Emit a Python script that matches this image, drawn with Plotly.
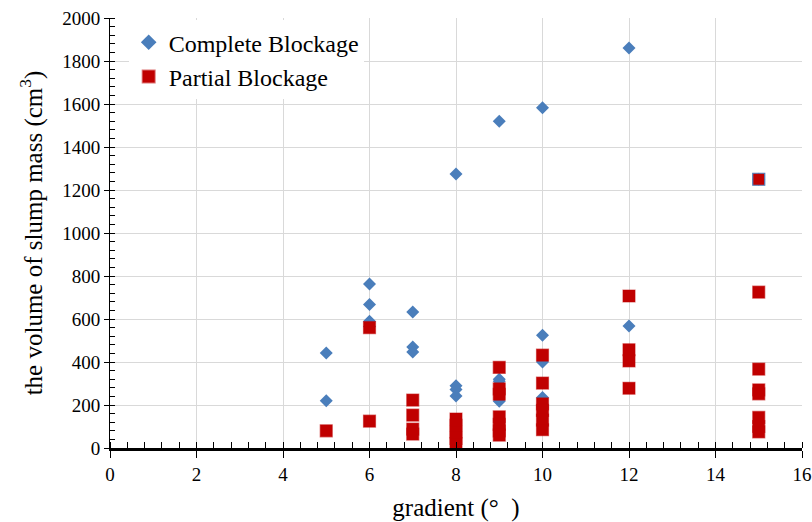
import plotly.graph_objects as go

# Slump volume versus gradient, per blockage type
complete_gradient = [5, 5, 6, 6, 6, 6, 7, 7, 7, 8, 8, 8, 8, 9, 9, 9, 9, 10, 10, 10, 10, 12, 12, 15]
complete_volume = [442, 220, 763, 668, 590, 565, 633, 470, 447, 1275, 290, 272, 242, 1520, 320, 310, 218, 1582, 525, 400, 235, 1860, 567, 1250]

partial_gradient = [5, 6, 6, 7, 7, 7, 7, 8, 8, 8, 8, 8, 9, 9, 9, 9, 9, 9, 9,
                    10, 10, 10, 10, 10, 10, 12, 12, 12, 12, 15, 15, 15, 15, 15, 15, 15, 15]
partial_volume = [80, 560, 125, 223, 153, 88, 65, 135, 105, 75, 45, 20, 375, 275, 250, 145, 110, 80, 60,
                  432, 302, 205, 175, 130, 85, 707, 457, 405, 278, 1250, 725, 367, 270, 252, 142, 100, 75]

x_ticks = [0, 2, 4, 6, 8, 10, 12, 14, 16]
y_ticks = [0, 200, 400, 600, 800, 1000, 1200, 1400, 1600, 1800, 2000]

FONT = "Liberation Serif, Times New Roman, serif"

# the shared 15°/1250 point carries a blue edge
partial_edge = ["#4F81BD" if (g == 15 and v == 1250) else "rgba(192,0,0,0.55)"
                for g, v in zip(partial_gradient, partial_volume)]

fig = go.Figure()
fig.add_trace(go.Scatter(
    x=complete_gradient, y=complete_volume, mode="markers", name="Complete Blockage",
    marker=dict(symbol="diamond", size=10, color="#4A7EBB",
                line=dict(color="#4A7EBB", width=0)),
))
fig.add_trace(go.Scatter(
    x=partial_gradient, y=partial_volume, mode="markers", name="Partial Blockage",
    marker=dict(symbol="square", size=12, color="#C00000",
                line=dict(color=partial_edge, width=1.2)),
))

fig.update_layout(
    width=812, height=522,
    margin=dict(l=110, r=10, t=18, b=74),
    paper_bgcolor="white", plot_bgcolor="white",
    font=dict(family=FONT, size=19, color="black"),
    showlegend=True,
    legend=dict(
        x=0.027, y=0.995, xanchor="left", yanchor="top",
        bgcolor="white", borderwidth=0,
        font=dict(family=FONT, size=24, color="black"),
        itemsizing="constant", tracegroupgap=0,
    ),
    xaxis=dict(
        range=[0, 16], tickvals=x_ticks, ticktext=[str(v) for v in x_ticks],
        showgrid=True, gridcolor="#D9D9D9", gridwidth=1,
        showline=True, linecolor="black", linewidth=2.5,
        ticks="outside", ticklen=7, tickcolor="black", tickwidth=1,
        minor=dict(dtick=0.4, ticks="inside", ticklen=6, tickcolor="black", showgrid=False),
        zeroline=False, mirror=False, automargin=False,
        title=dict(text="gradient (°\u00a0\u00a0)", font=dict(family=FONT, size=25), standoff=15),
        tickfont=dict(family=FONT, size=19),
    ),
    yaxis=dict(
        range=[0, 2000], tickvals=y_ticks, ticktext=[str(v) for v in y_ticks],
        showgrid=True, gridcolor="#D9D9D9", gridwidth=1,
        showline=True, linecolor="black", linewidth=1,
        ticks="outside", ticklen=5, tickcolor="black", tickwidth=1,
        minor=dict(dtick=40, ticks="inside", ticklen=5, tickcolor="black", showgrid=False),
        zeroline=False, mirror=False, automargin=False,
        title=dict(text="the volume of slump mass (cm<sup>3</sup>)", font=dict(family=FONT, size=25), standoff=12),
        tickfont=dict(family=FONT, size=19),
    ),
)

fig.write_html("out.html")
